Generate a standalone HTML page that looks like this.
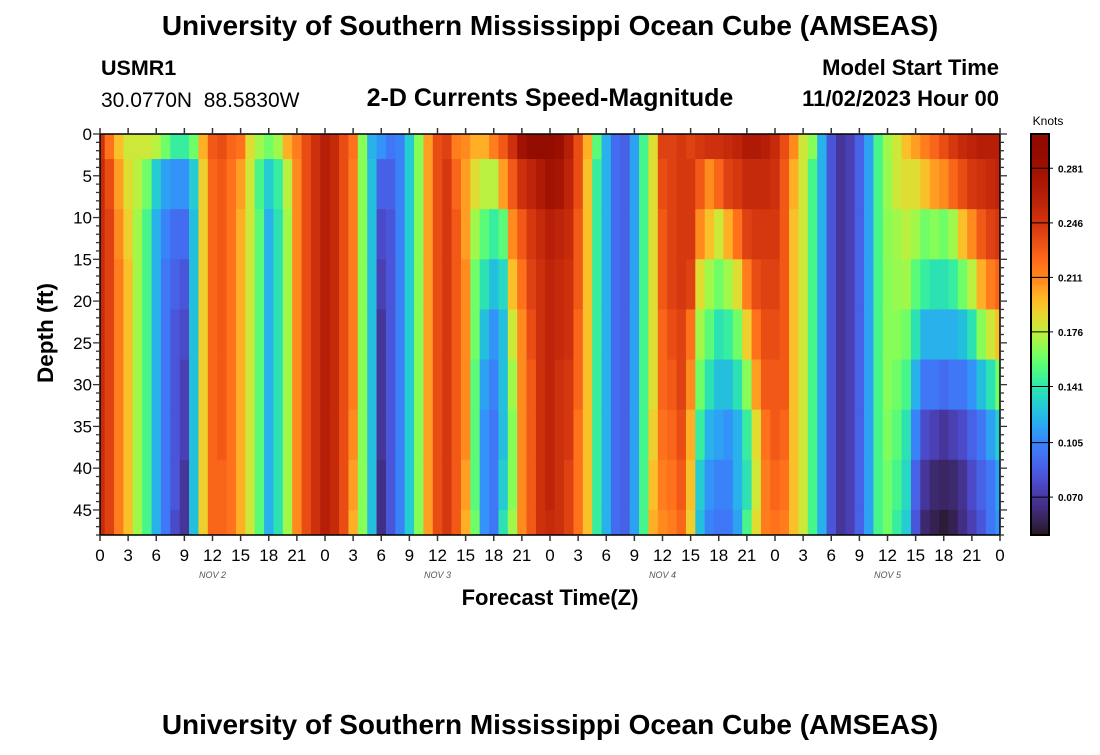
<!DOCTYPE html>
<html><head><meta charset="utf-8">
<style>
html,body{margin:0;padding:0;background:#fff;}
body{width:1100px;height:750px;overflow:hidden;font-family:"Liberation Sans",Arial,sans-serif;}
svg text{font-family:"Liberation Sans",Arial,sans-serif;}
</style></head>
<body>
<svg id="chart" width="1100" height="750" xmlns="http://www.w3.org/2000/svg">
<text x="550" y="35" text-anchor="middle" font-size="28" font-weight="bold">University of Southern Mississippi Ocean Cube (AMSEAS)</text>
<text x="101" y="75" font-size="21.5" font-weight="bold">USMR1</text>
<text x="101" y="107" font-size="21">30.0770N &#160;88.5830W</text>
<text x="550" y="106" text-anchor="middle" font-size="25" font-weight="bold">2-D Currents Speed-Magnitude</text>
<text x="999" y="75" text-anchor="end" font-size="22" font-weight="bold">Model Start Time</text>
<text x="999" y="106" text-anchor="end" font-size="22" font-weight="bold">11/02/2023 Hour 00</text>
<text x="550" y="734" text-anchor="middle" font-size="28" font-weight="bold">University of Southern Mississippi Ocean Cube (AMSEAS)</text>
<g id="heat"></g>
<g id="axes"></g>
<g id="cbar"></g>
</svg>
<script>
// depth levels (ft) of the data rows
const depthLevels = [0,6,12,18,24,30,36,42,48];
// hours since model start (columns)
const hours = Array.from({length:97},(_,i)=>i);
const xTickLabels = ["0","3","6","9","12","15","18","21","0","3","6","9","12","15","18","21","0","3","6","9","12","15","18","21","0","3","6","9","12","15","18","21","0"];
const dayLabels = ["NOV 2","NOV 3","NOV 4","NOV 5"];
const yTickLabels = ["0","5","10","15","20","25","30","35","40","45"];
const cbarTicks = [0.070,0.105,0.141,0.176,0.211,0.246,0.281];
// speed (knots) per hour, values at depthLevels
const speed = [
[0.25,0.255,0.255,0.255,0.255,0.255,0.255,0.255,0.255],
[0.22,0.235,0.24,0.24,0.24,0.24,0.24,0.24,0.24],
[0.195,0.205,0.21,0.215,0.215,0.215,0.215,0.215,0.215],
[0.18,0.185,0.19,0.195,0.195,0.195,0.195,0.195,0.195],
[0.18,0.175,0.17,0.17,0.17,0.17,0.17,0.17,0.17],
[0.18,0.16,0.15,0.15,0.15,0.15,0.15,0.15,0.15],
[0.175,0.13,0.12,0.12,0.12,0.12,0.12,0.12,0.12],
[0.16,0.115,0.105,0.1,0.1,0.1,0.1,0.1,0.1],
[0.145,0.11,0.095,0.09,0.085,0.085,0.085,0.085,0.08],
[0.145,0.11,0.095,0.085,0.08,0.075,0.075,0.07,0.07],
[0.16,0.13,0.125,0.125,0.125,0.125,0.125,0.125,0.125],
[0.2,0.19,0.19,0.19,0.19,0.19,0.19,0.19,0.19],
[0.23,0.225,0.225,0.225,0.225,0.225,0.225,0.225,0.225],
[0.235,0.23,0.23,0.23,0.23,0.23,0.23,0.225,0.225],
[0.225,0.22,0.22,0.22,0.22,0.22,0.22,0.22,0.22],
[0.22,0.205,0.2,0.2,0.2,0.2,0.2,0.2,0.2],
[0.185,0.18,0.18,0.18,0.18,0.18,0.18,0.18,0.18],
[0.17,0.15,0.155,0.155,0.155,0.155,0.155,0.155,0.155],
[0.16,0.13,0.12,0.12,0.12,0.12,0.12,0.12,0.12],
[0.17,0.145,0.14,0.14,0.14,0.14,0.14,0.14,0.14],
[0.2,0.175,0.17,0.17,0.17,0.17,0.17,0.17,0.17],
[0.215,0.21,0.21,0.21,0.21,0.21,0.21,0.21,0.21],
[0.235,0.235,0.235,0.235,0.235,0.235,0.235,0.235,0.235],
[0.25,0.25,0.25,0.25,0.25,0.25,0.25,0.25,0.25],
[0.265,0.265,0.265,0.265,0.265,0.265,0.265,0.265,0.265],
[0.255,0.255,0.255,0.255,0.255,0.255,0.255,0.255,0.255],
[0.235,0.235,0.235,0.235,0.235,0.235,0.235,0.235,0.235],
[0.22,0.215,0.215,0.215,0.215,0.215,0.21,0.205,0.2],
[0.165,0.165,0.165,0.165,0.165,0.165,0.165,0.165,0.165],
[0.12,0.125,0.125,0.125,0.125,0.125,0.125,0.125,0.125],
[0.11,0.09,0.08,0.075,0.07,0.07,0.07,0.065,0.065],
[0.1,0.09,0.085,0.085,0.085,0.085,0.085,0.085,0.085],
[0.105,0.105,0.105,0.105,0.105,0.105,0.105,0.105,0.105],
[0.13,0.13,0.13,0.13,0.13,0.13,0.13,0.13,0.13],
[0.165,0.165,0.165,0.165,0.165,0.165,0.165,0.165,0.165],
[0.205,0.205,0.205,0.205,0.205,0.205,0.205,0.205,0.205],
[0.235,0.235,0.235,0.235,0.235,0.235,0.235,0.235,0.235],
[0.24,0.245,0.245,0.245,0.245,0.245,0.245,0.245,0.245],
[0.215,0.225,0.23,0.23,0.23,0.23,0.23,0.23,0.23],
[0.21,0.205,0.205,0.21,0.21,0.21,0.21,0.205,0.2],
[0.2,0.185,0.17,0.16,0.16,0.155,0.155,0.155,0.16],
[0.2,0.175,0.155,0.14,0.125,0.115,0.11,0.11,0.11],
[0.215,0.175,0.145,0.125,0.11,0.105,0.1,0.1,0.1],
[0.23,0.205,0.155,0.135,0.125,0.125,0.125,0.13,0.14],
[0.25,0.23,0.21,0.195,0.18,0.17,0.165,0.165,0.17],
[0.28,0.25,0.23,0.22,0.21,0.21,0.21,0.21,0.21],
[0.29,0.26,0.245,0.24,0.235,0.23,0.23,0.23,0.23],
[0.295,0.27,0.255,0.25,0.25,0.25,0.25,0.25,0.25],
[0.295,0.28,0.265,0.26,0.26,0.26,0.26,0.26,0.255],
[0.285,0.275,0.26,0.255,0.255,0.25,0.25,0.25,0.25],
[0.265,0.26,0.255,0.25,0.25,0.245,0.245,0.24,0.24],
[0.235,0.235,0.23,0.23,0.225,0.225,0.22,0.22,0.22],
[0.2,0.195,0.195,0.195,0.195,0.195,0.195,0.195,0.195],
[0.155,0.145,0.145,0.145,0.145,0.145,0.145,0.145,0.145],
[0.12,0.12,0.12,0.12,0.12,0.12,0.12,0.12,0.12],
[0.095,0.095,0.095,0.095,0.095,0.095,0.095,0.095,0.095],
[0.09,0.09,0.09,0.09,0.09,0.09,0.09,0.09,0.09],
[0.115,0.115,0.115,0.115,0.115,0.115,0.115,0.115,0.115],
[0.15,0.15,0.15,0.15,0.15,0.15,0.15,0.15,0.15],
[0.185,0.185,0.185,0.185,0.185,0.185,0.19,0.195,0.2],
[0.24,0.235,0.23,0.23,0.225,0.225,0.22,0.215,0.21],
[0.24,0.24,0.24,0.24,0.235,0.23,0.225,0.22,0.215],
[0.245,0.245,0.245,0.245,0.24,0.24,0.235,0.23,0.225],
[0.24,0.245,0.245,0.24,0.22,0.21,0.2,0.195,0.19],
[0.245,0.23,0.21,0.185,0.17,0.16,0.145,0.13,0.125],
[0.25,0.21,0.195,0.17,0.155,0.14,0.12,0.11,0.105],
[0.25,0.225,0.18,0.16,0.14,0.125,0.115,0.105,0.1],
[0.255,0.24,0.2,0.17,0.145,0.125,0.11,0.105,0.1],
[0.26,0.245,0.22,0.185,0.16,0.14,0.12,0.12,0.115],
[0.27,0.255,0.24,0.215,0.19,0.165,0.145,0.14,0.15],
[0.27,0.255,0.245,0.235,0.22,0.205,0.185,0.18,0.185],
[0.265,0.255,0.245,0.24,0.235,0.23,0.22,0.215,0.215],
[0.255,0.25,0.245,0.24,0.235,0.23,0.23,0.225,0.22],
[0.235,0.23,0.23,0.23,0.23,0.23,0.225,0.22,0.215],
[0.21,0.2,0.195,0.195,0.195,0.195,0.195,0.195,0.195],
[0.18,0.18,0.18,0.18,0.18,0.18,0.18,0.18,0.18],
[0.165,0.15,0.15,0.15,0.15,0.15,0.15,0.15,0.15],
[0.12,0.12,0.12,0.12,0.12,0.12,0.12,0.12,0.12],
[0.085,0.085,0.085,0.085,0.085,0.085,0.085,0.085,0.085],
[0.07,0.07,0.07,0.07,0.07,0.07,0.07,0.07,0.07],
[0.075,0.075,0.075,0.075,0.075,0.075,0.075,0.075,0.075],
[0.09,0.09,0.09,0.09,0.09,0.09,0.09,0.09,0.09],
[0.115,0.115,0.115,0.115,0.115,0.115,0.115,0.115,0.115],
[0.15,0.15,0.15,0.15,0.15,0.15,0.15,0.15,0.15],
[0.17,0.168,0.166,0.165,0.165,0.165,0.163,0.16,0.16],
[0.18,0.18,0.17,0.168,0.165,0.16,0.155,0.15,0.145],
[0.195,0.185,0.175,0.17,0.16,0.15,0.14,0.135,0.13],
[0.205,0.185,0.17,0.155,0.14,0.12,0.105,0.09,0.085],
[0.215,0.195,0.16,0.145,0.12,0.1,0.08,0.07,0.06],
[0.225,0.205,0.165,0.14,0.12,0.1,0.075,0.06,0.055],
[0.235,0.21,0.16,0.14,0.12,0.095,0.07,0.058,0.05],
[0.245,0.225,0.17,0.145,0.12,0.1,0.075,0.06,0.055],
[0.255,0.235,0.195,0.16,0.125,0.1,0.08,0.068,0.065],
[0.26,0.245,0.21,0.175,0.14,0.11,0.09,0.08,0.075],
[0.265,0.25,0.23,0.2,0.165,0.125,0.1,0.09,0.085],
[0.265,0.255,0.24,0.215,0.18,0.14,0.115,0.1,0.1],
[0.265,0.26,0.245,0.225,0.195,0.16,0.13,0.115,0.11]
];

const NS="http://www.w3.org/2000/svg";
const PX0=100,PX1=1000,PY0=134,PY1=535;
const TMAX=96,DMAX=48,VMIN=0.0457,VMAX=0.303;
// colour-scale anchors (value -> turbo position)
const cmapV=[0.0457,0.070,0.105,0.141,0.176,0.211,0.246,0.281,0.303];
const cmapT=[0.0,0.05,0.16,0.33,0.55,0.74,0.86,0.94,1.0];
const xScale=h=>PX0+(h/TMAX)*(PX1-PX0);
const yScale=d=>PY0+(d/DMAX)*(PY1-PY0);
function turbo(t){
  t=Math.max(0,Math.min(1,t));
  const r=0.13572138+t*(4.61539260+t*(-42.66032258+t*(132.13108234+t*(-152.94239396+t*59.28637943))));
  const g=0.09140261+t*(2.19418839+t*(4.84296658+t*(-14.18503333+t*(4.27729857+t*2.82956604))));
  const b=0.10667330+t*(12.64194608+t*(-60.58204836+t*(110.36276771+t*(-89.90310912+t*27.34824973))));
  const c=v=>Math.round(Math.max(0,Math.min(1,v))*255);
  return `rgb(${c(r)},${c(g)},${c(b)})`;
}
function vToT(v){
  if(v<=cmapV[0])return 0;
  for(let k=1;k<cmapV.length;k++){
    if(v<=cmapV[k]){const f=(v-cmapV[k-1])/(cmapV[k]-cmapV[k-1]);return cmapT[k-1]+f*(cmapT[k]-cmapT[k-1]);}
  }
  return 1;
}
const color=v=>turbo(vToT(v));
function mk(tag,attrs,parent){const e=document.createElementNS(NS,tag);for(const k in attrs)e.setAttribute(k,attrs[k]);parent.appendChild(e);return e;}

const heat=document.getElementById('heat');
hours.forEach((h,i)=>{
  const xa=Math.max(PX0,xScale(h-0.5)),xb=Math.min(PX1,xScale(h+0.5));
  depthLevels.forEach((d,j)=>{
    const da=j===0?0:(depthLevels[j-1]+d)/2;
    const db=j===depthLevels.length-1?DMAX:(depthLevels[j+1]+d)/2;
    const r=mk('rect',{x:xa.toFixed(2),y:yScale(da).toFixed(2),width:(xb-xa+0.4).toFixed(2),height:(yScale(db)-yScale(da)+0.4).toFixed(2),fill:color(speed[i][j])},heat);
    
    
  });
});

const ax=document.getElementById('axes');
const frame=mk('rect',{x:PX0,y:PY0,width:PX1-PX0,height:PY1-PY0,fill:'none',stroke:'#000','stroke-width':1.5},ax);


xTickLabels.forEach((lab,i)=>{
  const x=xScale(i*3);
  mk('line',{x1:x,y1:PY1,x2:x,y2:PY1+6,stroke:'#333','stroke-width':1.5},ax);
  mk('line',{x1:x,y1:PY0,x2:x,y2:PY0-6,stroke:'#333','stroke-width':1.5},ax);
  const t=mk('text',{x:x,y:561,'text-anchor':'middle','font-size':17},ax);
  t.textContent=lab;
  
  
});
dayLabels.forEach((lab,i)=>{
  const t=mk('text',{x:xScale(i*24+12),y:578,'text-anchor':'middle','font-size':9,'font-style':'italic',fill:'#555','font-family':'Liberation Serif, serif'},ax);
  t.textContent=lab;
  
  
});
for(let d=0;d<=DMAX;d++){
  const y=yScale(d),len=d%5===0?7:4;
  mk('line',{x1:PX0-len,y1:y,x2:PX0,y2:y,stroke:'#333','stroke-width':1.3},ax);
  mk('line',{x1:PX1,y1:y,x2:PX1+len,y2:y,stroke:'#333','stroke-width':1.3},ax);
}
yTickLabels.forEach((lab,i)=>{
  const t=mk('text',{x:92,y:yScale(i*5)+6,'text-anchor':'end','font-size':17},ax);
  t.textContent=lab;
  
  
});
const xt=mk('text',{x:550,y:605,'text-anchor':'middle','font-size':22,'font-weight':'bold'},ax);
xt.textContent='Forecast Time(Z)';


const yt=mk('text',{x:0,y:0,'text-anchor':'middle','font-size':22.5,'font-weight':'bold',transform:'translate(53,333) rotate(-90)'},ax);
yt.textContent='Depth (ft)';



const cb=document.getElementById('cbar');
const CX=1031,CW=18;
for(let k=0;k<200;k++){
  const v0=VMAX-(VMAX-VMIN)*k/200;
  const y=PY0+(PY1-PY0)*k/200;
  mk('rect',{x:CX,y:y.toFixed(2),width:CW,height:((PY1-PY0)/200+0.5).toFixed(2),fill:color(v0)},cb);
}
const cbf=mk('rect',{x:CX,y:PY0,width:CW,height:PY1-PY0,fill:'none',stroke:'#000','stroke-width':2},cb);


const cy=v=>PY0+(VMAX-v)/(VMAX-VMIN)*(PY1-PY0);
cbarTicks.forEach(v=>{
  const y=cy(v);
  mk('line',{x1:CX,y1:y,x2:CX+CW+4,y2:y,stroke:'#000','stroke-width':1},cb);
  const t=mk('text',{x:CX+CW+9,y:y+4,'font-size':10,'font-weight':'bold'},cb);
  t.textContent=v.toFixed(3);
  
  
});
const ct=mk('text',{x:1048,y:125,'text-anchor':'middle','font-size':12},cb);
ct.textContent='Knots';


</script>
</body></html>
